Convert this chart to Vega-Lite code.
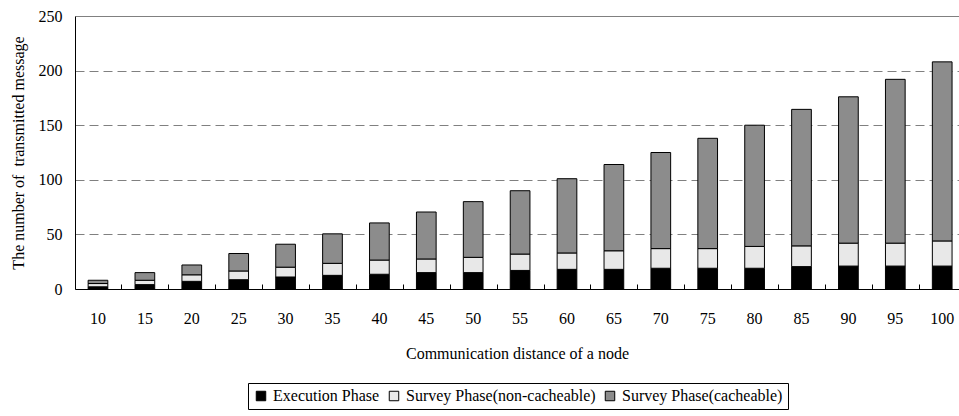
{
  "$schema": "https://vega.github.io/schema/vega-lite/v6.json",
  "width": 884,
  "height": 273,
  "autosize": {"type": "none"},
  "padding": {"left": 75, "top": 16, "right": 0, "bottom": 127},
  "background": "white",
  "config": {
    "font": "Liberation Serif",
    "view": {"stroke": null},
    "axis": {"labelFont": "Liberation Serif", "titleFont": "Liberation Serif", "labelFontSize": 16, "titleFontSize": 16, "titleFontWeight": "normal", "labelColor": "black", "titleColor": "black"},
    "legend": {"labelFont": "Liberation Serif", "labelFontSize": 16, "labelColor": "black", "labelLimit": 0}
  },
  "data": {"values": [
    {"d": 10, "phase": "Execution Phase", "ord": 1, "v": 2},
    {"d": 10, "phase": "Survey Phase(non-cacheable)", "ord": 2, "v": 3},
    {"d": 10, "phase": "Survey Phase(cacheable)", "ord": 3, "v": 3},
    {"d": 15, "phase": "Execution Phase", "ord": 1, "v": 4},
    {"d": 15, "phase": "Survey Phase(non-cacheable)", "ord": 2, "v": 4},
    {"d": 15, "phase": "Survey Phase(cacheable)", "ord": 3, "v": 7},
    {"d": 20, "phase": "Execution Phase", "ord": 1, "v": 7},
    {"d": 20, "phase": "Survey Phase(non-cacheable)", "ord": 2, "v": 6},
    {"d": 20, "phase": "Survey Phase(cacheable)", "ord": 3, "v": 9},
    {"d": 25, "phase": "Execution Phase", "ord": 1, "v": 8.5},
    {"d": 25, "phase": "Survey Phase(non-cacheable)", "ord": 2, "v": 8},
    {"d": 25, "phase": "Survey Phase(cacheable)", "ord": 3, "v": 16},
    {"d": 30, "phase": "Execution Phase", "ord": 1, "v": 11},
    {"d": 30, "phase": "Survey Phase(non-cacheable)", "ord": 2, "v": 9},
    {"d": 30, "phase": "Survey Phase(cacheable)", "ord": 3, "v": 21},
    {"d": 35, "phase": "Execution Phase", "ord": 1, "v": 12.5},
    {"d": 35, "phase": "Survey Phase(non-cacheable)", "ord": 2, "v": 11},
    {"d": 35, "phase": "Survey Phase(cacheable)", "ord": 3, "v": 27},
    {"d": 40, "phase": "Execution Phase", "ord": 1, "v": 13.5},
    {"d": 40, "phase": "Survey Phase(non-cacheable)", "ord": 2, "v": 13},
    {"d": 40, "phase": "Survey Phase(cacheable)", "ord": 3, "v": 34},
    {"d": 45, "phase": "Execution Phase", "ord": 1, "v": 15},
    {"d": 45, "phase": "Survey Phase(non-cacheable)", "ord": 2, "v": 12.5},
    {"d": 45, "phase": "Survey Phase(cacheable)", "ord": 3, "v": 43},
    {"d": 50, "phase": "Execution Phase", "ord": 1, "v": 15},
    {"d": 50, "phase": "Survey Phase(non-cacheable)", "ord": 2, "v": 14},
    {"d": 50, "phase": "Survey Phase(cacheable)", "ord": 3, "v": 51},
    {"d": 55, "phase": "Execution Phase", "ord": 1, "v": 17},
    {"d": 55, "phase": "Survey Phase(non-cacheable)", "ord": 2, "v": 15},
    {"d": 55, "phase": "Survey Phase(cacheable)", "ord": 3, "v": 58},
    {"d": 60, "phase": "Execution Phase", "ord": 1, "v": 18},
    {"d": 60, "phase": "Survey Phase(non-cacheable)", "ord": 2, "v": 15},
    {"d": 60, "phase": "Survey Phase(cacheable)", "ord": 3, "v": 68},
    {"d": 65, "phase": "Execution Phase", "ord": 1, "v": 18},
    {"d": 65, "phase": "Survey Phase(non-cacheable)", "ord": 2, "v": 17},
    {"d": 65, "phase": "Survey Phase(cacheable)", "ord": 3, "v": 79},
    {"d": 70, "phase": "Execution Phase", "ord": 1, "v": 19},
    {"d": 70, "phase": "Survey Phase(non-cacheable)", "ord": 2, "v": 18},
    {"d": 70, "phase": "Survey Phase(cacheable)", "ord": 3, "v": 88},
    {"d": 75, "phase": "Execution Phase", "ord": 1, "v": 19},
    {"d": 75, "phase": "Survey Phase(non-cacheable)", "ord": 2, "v": 18},
    {"d": 75, "phase": "Survey Phase(cacheable)", "ord": 3, "v": 101},
    {"d": 80, "phase": "Execution Phase", "ord": 1, "v": 19},
    {"d": 80, "phase": "Survey Phase(non-cacheable)", "ord": 2, "v": 20},
    {"d": 80, "phase": "Survey Phase(cacheable)", "ord": 3, "v": 111},
    {"d": 85, "phase": "Execution Phase", "ord": 1, "v": 20.5},
    {"d": 85, "phase": "Survey Phase(non-cacheable)", "ord": 2, "v": 19},
    {"d": 85, "phase": "Survey Phase(cacheable)", "ord": 3, "v": 125},
    {"d": 90, "phase": "Execution Phase", "ord": 1, "v": 21},
    {"d": 90, "phase": "Survey Phase(non-cacheable)", "ord": 2, "v": 21},
    {"d": 90, "phase": "Survey Phase(cacheable)", "ord": 3, "v": 134},
    {"d": 95, "phase": "Execution Phase", "ord": 1, "v": 21},
    {"d": 95, "phase": "Survey Phase(non-cacheable)", "ord": 2, "v": 21},
    {"d": 95, "phase": "Survey Phase(cacheable)", "ord": 3, "v": 150},
    {"d": 100, "phase": "Execution Phase", "ord": 1, "v": 21},
    {"d": 100, "phase": "Survey Phase(non-cacheable)", "ord": 2, "v": 23},
    {"d": 100, "phase": "Survey Phase(cacheable)", "ord": 3, "v": 164}
  ]},
  "layer": [
    {
      "mark": {"type": "bar", "stroke": "black", "strokeWidth": 1},
      "encoding": {
        "x": {
          "field": "d", "type": "ordinal", "sort": "ascending",
          "title": "Communication distance of a node",
          "scale": {"paddingInner": 0.58, "paddingOuter": 0.214, "align": 0.654},
          "axis": {"labelAngle": 0, "domainColor": "black", "domainWidth": 1, "ticks": false, "labelPadding": 21, "titlePadding": 19}
        },
        "y": {
          "field": "v", "type": "quantitative", "stack": "zero",
          "title": "The number of \u00a0transmitted message",
          "scale": {"domain": [0, 250], "nice": false},
          "axis": {"values": [0, 50, 100, 150, 200, 250], "domainColor": "black", "ticks": false, "labelPadding": 13, "titlePadding": 12,
            "gridColor": "#808080", "gridWidth": 1,
            "gridDash": {"condition": {"test": "datum.value === 250 || datum.value === 0", "value": []}, "value": [9, 5]}}
        },
        "color": {
          "field": "phase", "type": "nominal",
          "scale": {"domain": ["Execution Phase", "Survey Phase(non-cacheable)", "Survey Phase(cacheable)"], "range": ["#000000", "#e8e8e8", "#8c8c8c"]},
          "legend": {"title": null, "orient": "none", "legendX": 173, "legendY": 367, "direction": "horizontal", "strokeColor": "black", "padding": 5, "symbolType": "square", "symbolSize": 90, "symbolStrokeColor": "black", "symbolStrokeWidth": 1, "symbolOpacity": 1, "columnPadding": 6, "labelOffset": 4}
        },
        "order": {"field": "ord", "type": "quantitative"}
      }
    },
    {
      "mark": {"type": "bar", "opacity": 0},
      "encoding": {
        "x": {
          "field": "d", "type": "ordinal", "sort": "ascending",
          "axis": {"orient": "bottom", "offset": -5, "labels": false, "domain": false, "title": null, "ticks": true, "tickColor": "black", "tickOpacity": 1, "tickWidth": 1, "tickSize": 5, "tickOffset": 23.45, "grid": false}
        }
      }
    }
  ],
  "resolve": {"axis": {"x": "independent"}}
}
